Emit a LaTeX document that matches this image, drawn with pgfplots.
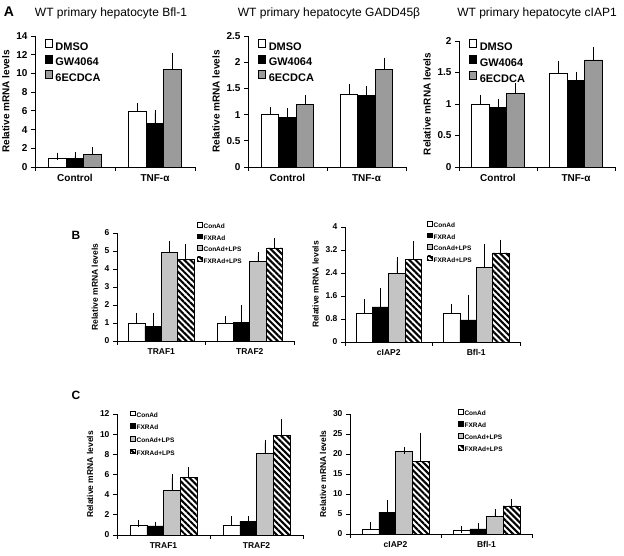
\documentclass[border=0pt]{standalone}
\usepackage{fontspec}
\setmainfont{Liberation Sans}
\usepackage{pgfplots}
\pgfplotsset{compat=1.18}
\usetikzlibrary{patterns.meta}
\definecolor{midgray}{RGB}{155,155,155}
\newcommand{\fs}[1]{\fontsize{#1}{#1}\selectfont}

\pgfplotsset{
  panel/.style={
    scale only axis,
    axis lines*=left,
    axis line style={-, line width=0.7pt},
    ybar=0pt,
    xmin=-0.5, xmax=1.5, ymin=0,
    xtick={0,1},
    minor xtick={-0.5,0.5,1.5},
    major x tick style={draw=none},
    tick align=outside,
    major tick length=4pt, minor tick length=4pt,
    tick style={black, line width=0.7pt},
    clip=false,
    /pgf/number format/assume math mode=true,
    yticklabel style={/pgf/number format/fixed},
    error bars/y dir=plus,
    error bars/y explicit,
    error bars/error mark=-,
    error bars/error bar style={black, line width=0.7pt, solid},
    error bars/error mark options={black, mark size=3.5pt, line width=0.7pt},
    legend cell align=left,
  },
  pA/.style={panel, bar width=17.5pt,
    tick label style={font=\bfseries\fs{10}},
    ylabel style={font=\bfseries\fs{10}},
    ylabel={Relative mRNA levels},
    xticklabels={Control, TNF-α},
    legend image code/.code={\draw[##1, line width=0.6pt] (0pt,0pt) rectangle (7pt,8pt);},
    legend style={draw=none, fill=none, font=\bfseries\fs{11}, anchor=north west, inner sep=0pt,
      nodes={inner sep=0pt, text height=8pt, text depth=2pt}, row sep=2.5pt, column sep=3pt},
  },
  pB/.style={panel,
    tick label style={font=\bfseries\fs{8.5}},
    ylabel style={font=\bfseries\fs{8.5}},
    ylabel={Relative mRNA levels},
    legend image code/.code={\draw[##1, line width=0.4pt] (0pt,0pt) rectangle (4.5pt,4.5pt);},
    legend style={draw=none, fill=none, font=\bfseries\fs{6.5}, anchor=north west, inner sep=0pt,
      nodes={inner sep=0pt, text height=5pt, text depth=1.5pt}, row sep=3.5pt, column sep=1.5pt},
  },
  wbar/.style={draw=black, fill=white, line width=0.6pt},
  bbar/.style={draw=black, fill=black, line width=0.6pt},
  gbar/.style={draw=black, fill=midgray, line width=0.6pt},
  dbar/.style={draw=black, line width=0.6pt, pattern={Dots[distance=2pt, radius=0.72pt]}},
  sbar/.style={draw=black, line width=0.6pt, pattern={Lines[angle=-45, distance=4.3pt, line width=2.1pt]}},
}

\begin{document}
\begin{tikzpicture}[x=1pt,y=1pt]
\path[use as bounding box] (0,0) rectangle (624,556);
\coordinate (pa1) at (35,389);
\coordinate (pa2) at (248,389);
\coordinate (pa3) at (459,389);
\coordinate (pb1) at (117,215);
\coordinate (pb2) at (345,214);
\coordinate (pc1) at (117,21);
\coordinate (pc2) at (350,22);

% panel labels and titles
\node[font=\bfseries\fs{14}] at (9,544) {A};
\node[font=\bfseries\fs{12}] at (76,321) {B};
\node[font=\bfseries\fs{12}] at (76,161) {C};
\node[font=\fs{12}] at (111,543) {WT primary hepatocyte Bfl-1};
\node[font=\fs{12}] at (329,543) {WT primary hepatocyte GADD45β};
\node[font=\fs{12}] at (537,543) {WT primary hepatocyte cIAP1};

% ---------- A1 ----------
\begin{axis}[pA, at={(pa1)}, anchor=south west, width=160pt, height=131pt,
  ymax=14, ytick={0,2,4,6,8,10,12,14},
  legend style={at={(0.06,0.98)}}]
\addplot[wbar] coordinates {(0,0.97) +- (0,0.18) (1,5.95) +- (0,0.5)};
\addplot[bbar] coordinates {(0,0.88) +- (0,0.3) (1,4.7) +- (0,1.05)};
\addplot[gbar] coordinates {(0,1.33) +- (0,0.42) (1,10.45) +- (0,1.4)};
\legend{DMSO, GW4064, 6ECDCA}
\end{axis}

% ---------- A2 ----------
\begin{axis}[pA, at={(pa2)}, anchor=south west, width=158pt, height=131pt,
  ymax=2.5, ytick={0,0.5,1,1.5,2,2.5},
  legend style={at={(0.063,0.98)}}]
\addplot[wbar] coordinates {(0,1.0) +- (0,0.08) (1,1.39) +- (0,0.12)};
\addplot[bbar] coordinates {(0,0.95) +- (0,0.1) (1,1.36) +- (0,0.12)};
\addplot[gbar] coordinates {(0,1.2) +- (0,0.1) (1,1.87) +- (0,0.15)};
\legend{DMSO, GW4064, 6ECDCA}
\end{axis}

% ---------- A3 ----------
\begin{axis}[pA, at={(pa3)}, anchor=south west, width=156pt, height=126pt,
  ymax=2, ytick={0,0.5,1,1.5,2},
  legend style={at={(0.064,1.016)}}]
\addplot[wbar] coordinates {(0,0.99) +- (0,0.09) (1,1.49) +- (0,0.13)};
\addplot[bbar] coordinates {(0,0.95) +- (0,0.08) (1,1.38) +- (0,0.08)};
\addplot[gbar] coordinates {(0,1.17) +- (0,0.1) (1,1.70) +- (0,0.15)};
\legend{DMSO, GW4064, 6ECDCA}
\end{axis}

% ---------- B1 ----------
\begin{axis}[pB, at={(pb1)}, anchor=south west, width=177pt, height=108pt,
  bar width=16.3pt, ymax=6, ytick={0,1,2,3,4,5,6},
  xticklabels={TRAF1, TRAF2},
  legend style={at={(0.452,1.10)}}]
\addplot[wbar] coordinates {(0,1.0) +- (0,0.37) (1,1.0) +- (0,0.18)};
\addplot[bbar] coordinates {(0,0.83) +- (0,0.54) (1,1.04) +- (0,0.76)};
\addplot[dbar] coordinates {(0,4.9) +- (0,0.45) (1,4.44) +- (0,0.3)};
\addplot[sbar] coordinates {(0,4.52) +- (0,0.67) (1,5.17) +- (0,0.35)};
\legend{ConAd, FXRAd, ConAd+LPS, FXRAd+LPS}
\end{axis}

% ---------- B2 ----------
\begin{axis}[pB, at={(pb2)}, anchor=south west, width=175pt, height=115pt,
  bar width=16.3pt, ymax=4, ytick={0,0.8,1.6,2.4,3.2,4},
  xticklabels={cIAP2, Bfl-1},
  legend style={at={(0.469,1.05)}}]
\addplot[wbar] coordinates {(0,0.99) +- (0,0.37) (1,0.99) +- (0,0.21)};
\addplot[bbar] coordinates {(0,1.22) +- (0,0.53) (1,0.77) +- (0,0.75)};
\addplot[dbar] coordinates {(0,2.39) +- (0,0.44) (1,2.6) +- (0,0.69)};
\addplot[sbar] coordinates {(0,2.88) +- (0,0.5) (1,3.1) +- (0,0.34)};
\legend{ConAd, FXRAd, ConAd+LPS, FXRAd+LPS}
\end{axis}

% ---------- C1 ----------
\begin{axis}[pB, at={(pc1)}, anchor=south west, width=186pt, height=121pt,
  bar width=16.7pt, ymax=12, ytick={0,2,4,6,8,10,12},
  xticklabels={TRAF1, TRAF2},
  legend style={at={(0.07,1.03)}, row sep=4.8pt}]
\addplot[wbar] coordinates {(0,1.0) +- (0,0.17) (1,1.0) +- (0,0.56)};
\addplot[bbar] coordinates {(0,0.9) +- (0,0.07) (1,1.36) +- (0,0.16)};
\addplot[dbar] coordinates {(0,4.44) +- (0,1.23) (1,8.15) +- (0,0.95)};
\addplot[sbar] coordinates {(0,5.7) +- (0,0.66) (1,9.88) +- (0,1.3)};
\legend{ConAd, FXRAd, ConAd+LPS, FXRAd+LPS}
\end{axis}

% ---------- C2 ----------
\begin{axis}[pB, at={(pc2)}, anchor=south west, width=182pt, height=120pt,
  bar width=16.7pt, ymax=30, ytick={0,5,10,15,20,25,30},
  xticklabels={cIAP2, Bfl-1},
  legend style={at={(0.593,1.04)}, row sep=4pt}]
\addplot[wbar] coordinates {(0,1.1) +- (0,1.07) (1,1.0) +- (0,0.1)};
\addplot[bbar] coordinates {(0,5.43) +- (0,2.27) (1,1.25) +- (0,0.5)};
\addplot[dbar] coordinates {(0,20.7) +- (0,0.2) (1,4.34) +- (0,1.0)};
\addplot[sbar] coordinates {(0,18.1) +- (0,6.3) (1,7.0) +- (0,0.9)};
\legend{ConAd, FXRAd, ConAd+LPS, FXRAd+LPS}
\end{axis}
\end{tikzpicture}
\end{document}
